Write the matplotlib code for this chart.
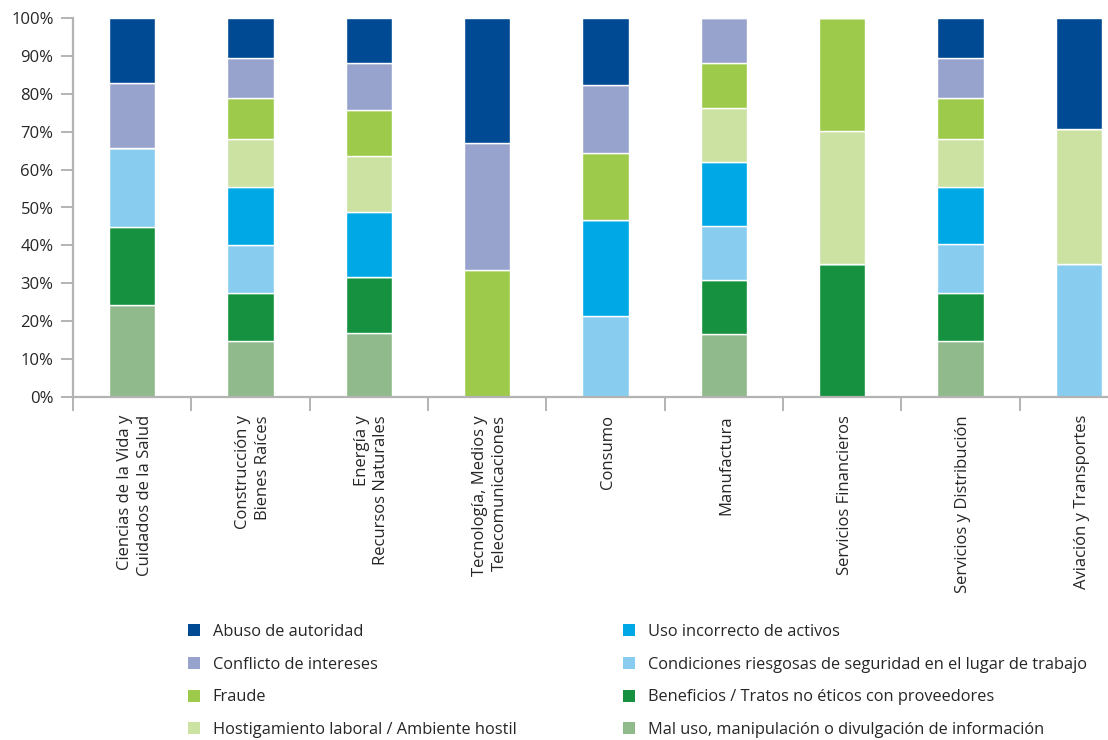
import numpy as np
import matplotlib.pyplot as plt
from matplotlib.patches import Patch

plt.rcParams["font.family"] = ["Open Sans", "DejaVu Sans"]

sectors = [
    "Ciencias de la Vida y\nCuidados de la Salud",
    "Construcción y\nBienes Raíces",
    "Energía y\nRecursos Naturales",
    "Tecnología, Medios y\nTelecomunicaciones",
    "Consumo",
    "Manufactura",
    "Servicios Financieros",
    "Servicios y Distribución",
    "Aviación y Transportes",
]

# share of reported cases per sector (%), stacked bottom -> top
mal_uso = [24.2, 14.7, 16.9, 0, 0, 16.5, 0, 14.7, 0]
beneficios = [20.7, 12.8, 14.7, 0, 0, 14.3, 35.0, 12.8, 0]
condiciones = [20.9, 12.7, 0, 0, 21.3, 14.3, 0, 12.8, 35.2]
uso_incorrecto = [0, 15.1, 17.3, 0, 25.3, 16.9, 0, 15.0, 0]
hostigamiento = [0, 12.8, 14.6, 0, 0, 14.3, 35.3, 12.9, 35.6]
fraude = [0, 10.8, 12.3, 33.6, 17.9, 11.9, 29.7, 10.8, 0]
conflicto = [17.1, 10.6, 12.2, 33.3, 17.9, 11.8, 0, 10.5, 0]
abuso = [17.1, 10.5, 12.0, 33.1, 17.6, 0, 0, 10.5, 29.2]

series = [
    ("Mal uso, manipulación o divulgación de información", mal_uso, "#90ba8c"),
    ("Beneficios / Tratos no éticos con proveedores", beneficios, "#15913f"),
    ("Condiciones riesgosas de seguridad en el lugar de trabajo", condiciones, "#88cdf0"),
    ("Uso incorrecto de activos", uso_incorrecto, "#00a9e6"),
    ("Hostigamiento laboral / Ambiente hostil", hostigamiento, "#cbe2a2"),
    ("Fraude", fraude, "#9dca4b"),
    ("Conflicto de intereses", conflicto, "#97a3cc"),
    ("Abuso de autoridad", abuso, "#004a94"),
]

W, H = 1108, 740
fig = plt.figure(figsize=(W / 100, H / 100), dpi=100)
ax = fig.add_axes([73 / W, 1 - 397 / H, (1138 - 73) / W, 379 / H])

x = np.arange(len(sectors))
bottom = np.zeros(len(sectors))
for name, vals, col in series:
    vals = np.array(vals, dtype=float)
    ax.bar(x, vals, width=0.39, bottom=bottom, color=col,
           edgecolor="white", linewidth=1.0)
    bottom += vals

grey = "#b3b3b3"
txt = "#262626"
ax.set_xlim(-0.5, len(sectors) - 0.5)
ax.set_ylim(0, 100)
for side in ["top", "right"]:
    ax.spines[side].set_visible(False)
for side in ["left", "bottom"]:
    ax.spines[side].set_color(grey)
    ax.spines[side].set_linewidth(1.6)

ax.set_yticks(np.arange(0, 101, 10))
ax.set_yticklabels([f"{v}%" for v in range(0, 101, 10)])
ax.tick_params(axis="y", length=9, width=1.4, color=grey, labelsize=12,
               labelcolor=txt, pad=5)

ax.set_xticks(x)
ax.set_xticklabels([])
ax.set_xticks(np.arange(-0.5, len(sectors), 1), minor=True)
ax.tick_params(axis="x", which="major", length=0)
ax.tick_params(axis="x", which="minor", length=10, width=1.4, color=grey)

for xi, lab in zip(x, sectors):
    ax.annotate(lab, xy=(xi, 0), xycoords=("data", "axes fraction"),
                xytext=(2, -13), textcoords="offset points",
                rotation=90, ha="center", va="top", multialignment="right",
                fontsize=12, color=txt, linespacing=1.3)

# legend in two columns below the chart
legend_order = [series[i] for i in (7, 6, 5, 4, 3, 2, 1, 0)]
cols = [legend_order[:4], legend_order[4:]]
anchors = [188, 623]
for items, ax_x in zip(cols, anchors):
    handles = [Patch(facecolor=c, edgecolor="none") for _, _, c in items]
    labels = [n for n, _, _ in items]
    fig.legend(handles, labels, loc="upper left",
               bbox_to_anchor=(ax_x / W, 1 - 624 / H), frameon=False,
               fontsize=11.8, labelcolor=txt, handlelength=0.75,
               handleheight=0.75, handletextpad=0.75, labelspacing=1.02,
               borderpad=0, borderaxespad=0)

fig.savefig("out.png", dpi=100)
